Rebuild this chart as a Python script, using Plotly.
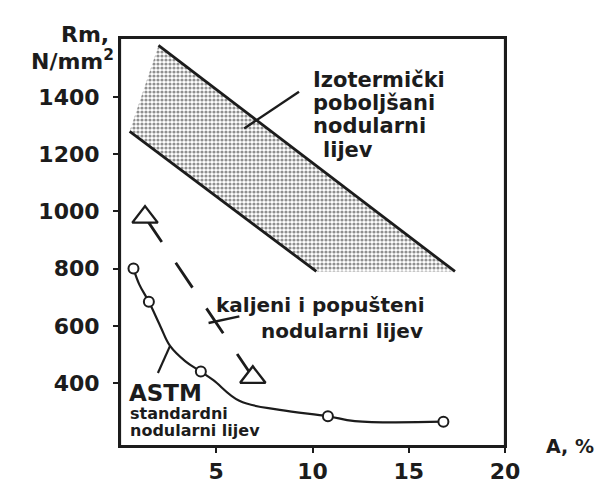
import plotly.graph_objects as go

# ---------------- data ----------------
x_ticks = [5, 10, 15, 20]
y_ticks = [400, 600, 800, 1000, 1200, 1400]

# isothermally improved ductile iron band (upper / lower bounding lines)
upper_x = [2.0, 17.4]
upper_y = [1580, 790]
lower_x = [0.5, 10.2]
lower_y = [1280, 790]

# quenched and tempered ductile iron (triangles, dashed)
qt_x = [1.3, 6.9]
qt_y = [980, 420]

# ASTM standard ductile iron (open circles)
astm_x = [0.7, 1.5, 4.2, 10.8, 16.8]
astm_y = [800, 684, 440, 284, 265]
# hand-drawn curve through the circles
astm_curve_x = [0.7, 1.0, 1.5, 2.1, 2.6, 3.4, 4.2, 4.85, 6.2, 8.3, 10.8, 12.2, 16.8]
astm_curve_y = [800, 745, 684, 598, 530, 476, 440, 410, 338, 306, 284, 267, 265]

# leader lines
iso_leader_x = [6.45, 9.3]
iso_leader_y = [1290, 1418]
qt_leader_x = [4.6, 6.2]
qt_leader_y = [610, 633]
astm_leader_x = [1.97, 2.6]
astm_leader_y = [435, 530]

# ---------------- figure ----------------
OFF = 8                     # page body margin of the browser
W, H = 603 - OFF, 484 - OFF
PL, PR, PT, PB = 120, 505, 38, 446      # plot area on screen
L, R, T, B = PL - OFF, W - (PR - OFF), PT - OFF, H - (PB - OFF)
INK = "#1c1c1c"
FONT = "DejaVu Sans"


def px(xs):
    return (xs - PL) / (PR - PL)


def py(ys):
    return (PB - ys) / (PB - PT)


fig = go.Figure()

band_x = [lower_x[0], upper_x[0], upper_x[1], lower_x[1]]
band_y = [lower_y[0], upper_y[0], upper_y[1], lower_y[1]]
fig.add_trace(go.Scatter(
    x=band_x, y=band_y, mode="lines", fill="toself",
    line=dict(width=0, color="rgba(0,0,0,0)"),
    fillcolor="white",
    fillpattern=dict(shape=".", size=4, solidity=0.5,
                     fgcolor="#222", bgcolor="white"),
    hoverinfo="skip"))

for xs, ys, w in [(upper_x, upper_y, 2.8), (lower_x, lower_y, 2.8),
                  (iso_leader_x, iso_leader_y, 2.4),
                  (qt_leader_x, qt_leader_y, 2.4),
                  (astm_leader_x, astm_leader_y, 2.2)]:
    fig.add_trace(go.Scatter(x=xs, y=ys, mode="lines",
                             line=dict(color=INK, width=w)))

fig.add_trace(go.Scatter(x=qt_x, y=qt_y, mode="lines",
                         line=dict(color=INK, width=2.8, dash="30px,25px")))
fig.add_trace(go.Scatter(x=qt_x, y=qt_y, mode="markers",
                         marker=dict(symbol="triangle-up", size=22, color="white",
                                     line=dict(color=INK, width=2.4))))

fig.add_trace(go.Scatter(x=astm_curve_x, y=astm_curve_y, mode="lines",
                         line=dict(color=INK, width=2.2, shape="spline", smoothing=1.1)))
fig.add_trace(go.Scatter(x=astm_x, y=astm_y, mode="markers",
                         marker=dict(symbol="circle", size=10, color="white",
                                     line=dict(color=INK, width=2))))

# text labels: (text, x on screen, baseline on screen, size, anchor)
labels = [
    ("Izotermički", 312, 87, 21, "left"),
    ("poboljšani", 312, 110, 21, "left"),
    ("nodularni", 312, 133, 21, "left"),
    ("lijev", 322, 157, 21, "left"),
    ("kaljeni i popušteni", 215, 312, 20, "left"),
    ("nodularni lijev", 260, 338, 20, "left"),
    ("ASTM", 128, 401, 23, "left"),
    ("standardni", 129, 419, 16, "left"),
    ("nodularni lijev", 129, 436, 16, "left"),
    ("Rm,", 110, 42, 22, "right"),
    ("N/mm<sup>2</sup>", 115, 68, 22, "right"),
    ("A, %", 545, 453, 19, "left"),
]
for text, xs, base, size, anc in labels:
    fig.add_annotation(
        text=text, xref="paper", yref="paper",
        x=px(xs), y=py(base - 0.346 * size),
        xanchor=anc, yanchor="middle", showarrow=False,
        font=dict(family=FONT, size=size, color=INK, weight="bold"), borderpad=0)

# plot frame
fig.add_shape(type="rect", xref="paper", yref="paper", x0=0, x1=1, y0=0, y1=1,
              line=dict(color=INK, width=2.2), fillcolor="rgba(0,0,0,0)", layer="above")

axis_common = dict(showline=True, linecolor=INK, linewidth=2, mirror=True,
                   ticks="outside", ticklen=5, tickwidth=1.8, tickcolor=INK,
                   showgrid=False, zeroline=False, automargin=False,
                   tickfont=dict(family=FONT, size=22, color=INK, weight="bold"))
fig.update_xaxes(range=[0, 20], tickvals=x_ticks, ticklabelstandoff=0, **axis_common)
fig.update_yaxes(range=[180, 1606], tickvals=y_ticks, ticklabelstandoff=9, **axis_common)

fig.update_layout(
    width=W, height=H, autosize=False, showlegend=False,
    margin=dict(l=L, r=R, t=T, b=B, autoexpand=False),
    paper_bgcolor="white", plot_bgcolor="white",
    font=dict(family=FONT, color=INK),
)

fig.write_html("out.html")
